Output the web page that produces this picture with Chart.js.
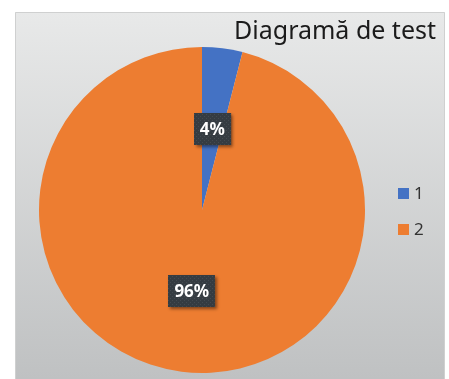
<!DOCTYPE html>
<html>
<head>
<meta charset="utf-8">
<script src="https://cdn.jsdelivr.net/npm/chart.js@4/dist/chart.umd.min.js"></script>
<style>
  html, body { margin: 0; padding: 0; background: #ffffff; }
  #wrap { width: 449px; height: 379px; position: relative; }
</style>
</head>
<body>
<div id="wrap"><canvas id="c" width="449" height="379"></canvas></div>
<script>
// Chart content
const chartTitle = 'Diagramă de test';
const categories = ['1', '2'];
const values = [4, 96];
const sliceColors = ['#4472c4', '#ed7d31'];

// Panel background with a soft vertical gradient and a thin frame
const panelBackground = {
  id: 'panelBackground',
  beforeDraw(chart) {
    const ctx = chart.ctx;
    const W = chart.width, H = chart.height;
    ctx.save();
    ctx.fillStyle = '#ffffff';
    ctx.fillRect(0, 0, W, H);
    const g = ctx.createLinearGradient(0, 12, 0, H);
    g.addColorStop(0, '#e8e9e9');
    g.addColorStop(1, '#bfc1c2');
    ctx.fillStyle = g;
    ctx.fillRect(15, 12, 430, H - 12);
    ctx.strokeStyle = '#cfd0d0';
    ctx.lineWidth = 1;
    ctx.beginPath();
    ctx.moveTo(15.5, H);
    ctx.lineTo(15.5, 12.5);
    ctx.lineTo(444.5, 12.5);
    ctx.lineTo(444.5, H);
    ctx.stroke();
    ctx.restore();
  }
};

// Title and legend drawn on the right side of the panel
const sideTexts = {
  id: 'sideTexts',
  afterDraw(chart) {
    const ctx = chart.ctx;
    ctx.save();
    ctx.fillStyle = '#1b1b1b';
    ctx.font = '25px "Noto Sans", sans-serif';
    ctx.textAlign = 'right';
    ctx.textBaseline = 'alphabetic';
    ctx.fillText(chartTitle, 436, 39);

    ctx.textAlign = 'left';
    ctx.font = '17px "Noto Sans", sans-serif';
    const ys = [193, 229];
    categories.forEach((lab, i) => {
      ctx.fillStyle = sliceColors[i];
      ctx.fillRect(398, ys[i] - 5, 11, 11);
      ctx.fillStyle = '#333333';
      ctx.textBaseline = 'middle';
      ctx.fillText(lab, 414, ys[i] + 1);
    });
    ctx.restore();
  }
};

// Dark percentage labels with a dotted texture and drop shadow
function makeDotPattern(ctx) {
  const p = document.createElement('canvas');
  p.width = 4; p.height = 4;
  const pc = p.getContext('2d');
  pc.fillStyle = '#353c42';
  pc.fillRect(0, 0, 4, 4);
  pc.fillStyle = '#444b51';
  pc.fillRect(0, 0, 1, 1);
  pc.fillRect(2, 2, 1, 1);
  return ctx.createPattern(p, 'repeat');
}

const sliceLabels = {
  id: 'sliceLabels',
  afterDatasetsDraw(chart) {
    const ctx = chart.ctx;
    const meta = chart.getDatasetMeta(0);
    const total = values.reduce((a, b) => a + b, 0);
    const pattern = makeDotPattern(ctx);
    ctx.save();
    ctx.font = 'bold 17px "Noto Sans", sans-serif';
    meta.data.forEach((arc, i) => {
      const pos = arc.tooltipPosition();
      const txt = Math.round(values[i] / total * 100) + '%';
      const tw = ctx.measureText(txt).width;
      const bw = tw + 12, bh = 32;
      const x = Math.round(pos.x - bw / 2), y = Math.round(pos.y - bh / 2);
      ctx.save();
      ctx.shadowColor = 'rgba(0,0,0,0.45)';
      ctx.shadowBlur = 3;
      ctx.shadowOffsetX = 2;
      ctx.shadowOffsetY = 2;
      ctx.fillStyle = '#353c42';
      ctx.fillRect(x, y, bw, bh);
      ctx.restore();
      ctx.fillStyle = pattern;
      ctx.fillRect(x, y, bw, bh);
      ctx.fillStyle = '#ffffff';
      ctx.textAlign = 'center';
      ctx.textBaseline = 'middle';
      ctx.fillText(txt, pos.x, pos.y + 1);
    });
    ctx.restore();
  }
};

new Chart(document.getElementById('c'), {
  type: 'pie',
  data: {
    labels: categories,
    datasets: [{
      data: values,
      backgroundColor: sliceColors,
      borderWidth: 0
    }]
  },
  options: {
    responsive: false,
    animation: false,
    layout: { padding: { left: 39, right: 84, top: 47, bottom: 6 } },
    plugins: {
      legend: { display: false },
      title: { display: false },
      tooltip: { enabled: false }
    }
  },
  plugins: [panelBackground, sideTexts, sliceLabels]
});
</script>
</body>
</html>
